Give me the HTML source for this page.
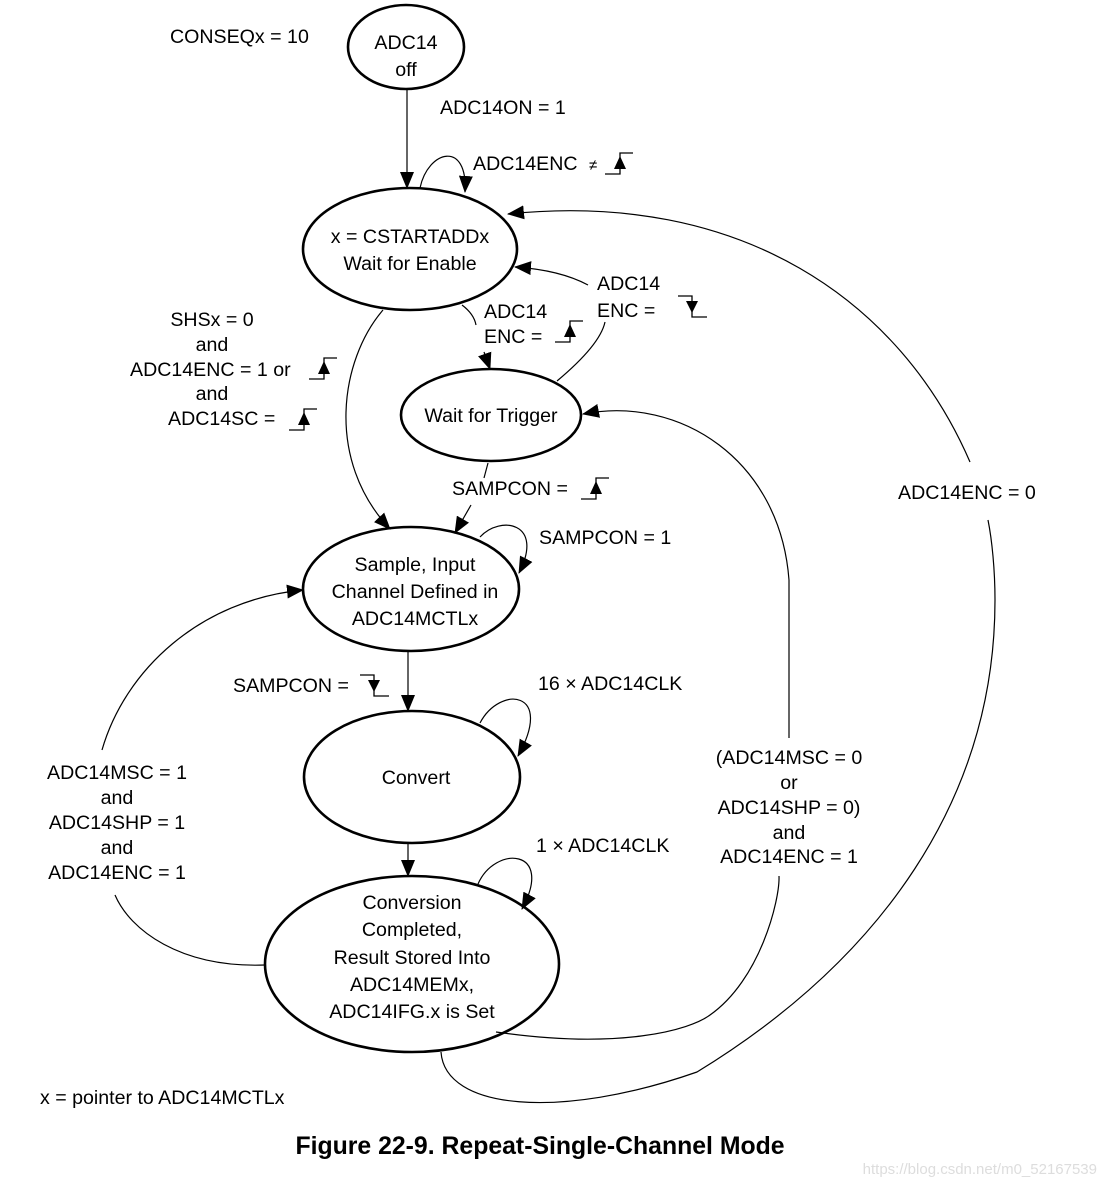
<!DOCTYPE html>
<html><head><meta charset="utf-8"><style>
html,body{margin:0;padding:0;background:#fff}
svg text{font-family:"Liberation Sans",Arial,sans-serif;font-size:19.6px;fill:#000}
</style></head><body>
<svg width="1107" height="1186" viewBox="0 0 1107 1186" xmlns="http://www.w3.org/2000/svg">
<defs>
<marker id="a" markerUnits="userSpaceOnUse" markerWidth="18" markerHeight="14" refX="16" refY="7" orient="auto">
<path d="M0,0 L17,7 L0,14 Z" fill="#000"/>
</marker>
<g id="r"><path d="M0,0 H15 V-21 H28" fill="none" stroke="#000" stroke-width="1.3"/><path d="M9,-5 L21,-5 L15,-18 Z" fill="#000"/></g>
<g id="f"><path d="M0,0 H14 V21 H29" fill="none" stroke="#000" stroke-width="1.3"/><path d="M8,5 L20,5 L14,17 Z" fill="#000"/></g>
</defs>

<g fill="none" stroke="#000" stroke-width="2.6">
<ellipse cx="406" cy="47" rx="58" ry="42"/>
<ellipse cx="410" cy="249" rx="107" ry="61"/>
<ellipse cx="491" cy="415" rx="90" ry="46"/>
<ellipse cx="411" cy="589" rx="108" ry="62"/>
<ellipse cx="412" cy="777" rx="108" ry="66"/>
<ellipse cx="412" cy="964" rx="147" ry="88"/>
</g>

<g fill="none" stroke="#000" stroke-width="1.2">
<path d="M407,89 L407,188" marker-end="url(#a)"/>
<path d="M420,188 C428,150 468,140 465,192" marker-end="url(#a)"/>
<path d="M441,1052 C445,1110 560,1120 697,1072 C880,960 995,800 995,600 C995,570 992,540 988,520"/>
<path d="M970,462 C900,300 740,190 508,214" marker-end="url(#a)"/>
<path d="M557,381 Q600,345 605,322"/>
<path d="M588,285 Q560,270 515,267" marker-end="url(#a)"/>
<path d="M462,305 Q474,314 476,325"/>
<path d="M484,352 L490,369" marker-end="url(#a)"/>
<path d="M383,310 C340,360 325,460 390,529" marker-end="url(#a)"/>
<path d="M488,463 L484,478"/>
<path d="M471,505 L455,533" marker-end="url(#a)"/>
<path d="M480,537 C500,515 545,522 519,573" marker-end="url(#a)"/>
<path d="M496,1032 C620,1050 690,1030 710,1015 C760,980 780,900 779,876"/>
<path d="M789,738 L789,580 C780,460 680,395 583,414" marker-end="url(#a)"/>
<path d="M408,652 L408,711" marker-end="url(#a)"/>
<path d="M480,723 C500,685 555,690 518,756" marker-end="url(#a)"/>
<path d="M408,843 L408,876" marker-end="url(#a)"/>
<path d="M478,884 C495,845 555,848 522,909" marker-end="url(#a)"/>
<path d="M265,965 C180,968 130,930 115,895"/>
<path d="M102,750 C125,670 200,600 303,590" marker-end="url(#a)"/>
</g>

<use href="#r" x="605" y="174"/>
<use href="#r" x="555" y="342"/>
<use href="#r" x="309" y="379"/>
<use href="#r" x="289" y="430"/>
<use href="#r" x="581" y="499"/>
<use href="#f" x="678" y="296"/>
<use href="#f" x="360" y="675"/>

<g text-anchor="middle">
<text x="406" y="49">ADC14</text>
<text x="406" y="76">off</text>
<text x="410" y="243">x = CSTARTADDx</text>
<text x="410" y="270">Wait for Enable</text>
<text x="491" y="422">Wait for Trigger</text>
<text x="415" y="571">Sample, Input</text>
<text x="415" y="598">Channel Defined in</text>
<text x="415" y="625">ADC14MCTLx</text>
<text x="416" y="784">Convert</text>
<text x="412" y="909">Conversion</text>
<text x="412" y="936">Completed,</text>
<text x="412" y="964">Result Stored Into</text>
<text x="412" y="991">ADC14MEMx,</text>
<text x="412" y="1018">ADC14IFG.x is Set</text>
<text x="212" y="326">SHSx = 0</text>
<text x="212" y="351">and</text>
<text x="212" y="400">and</text>
<text x="117" y="779">ADC14MSC = 1</text>
<text x="117" y="804">and</text>
<text x="117" y="829">ADC14SHP = 1</text>
<text x="117" y="854">and</text>
<text x="117" y="879">ADC14ENC = 1</text>
<text x="789" y="764">(ADC14MSC = 0</text>
<text x="789" y="789">or</text>
<text x="789" y="814">ADC14SHP = 0)</text>
<text x="789" y="839">and</text>
<text x="789" y="863">ADC14ENC = 1</text>
</g>
<text x="130" y="376">ADC14ENC = 1 or</text>
<text x="168" y="425">ADC14SC =</text>
<text x="170" y="43">CONSEQx = 10</text>
<text x="440" y="114">ADC14ON = 1</text>
<text x="473" y="170">ADC14ENC</text>
<text x="589" y="170" style="font-size:15px">≠</text>
<text x="597" y="290">ADC14</text>
<text x="597" y="317">ENC  =</text>
<text x="484" y="318">ADC14</text>
<text x="484" y="343">ENC  =</text>
<text x="452" y="495">SAMPCON =</text>
<text x="539" y="544">SAMPCON = 1</text>
<text x="233" y="692">SAMPCON =</text>
<text x="538" y="690">16 × ADC14CLK</text>
<text x="536" y="852">1 × ADC14CLK</text>
<text x="898" y="499">ADC14ENC = 0</text>
<text x="40" y="1104">x = pointer to ADC14MCTLx</text>
<text x="540" y="1154" text-anchor="middle" style="font-size:24.8px;font-weight:bold">Figure 22-9. Repeat-Single-Channel Mode</text>
<text x="1097" y="1174" text-anchor="end" style="font-size:15px;fill:#ddd">https://blog.csdn.net/m0_52167539</text>
</svg>
</body></html>
